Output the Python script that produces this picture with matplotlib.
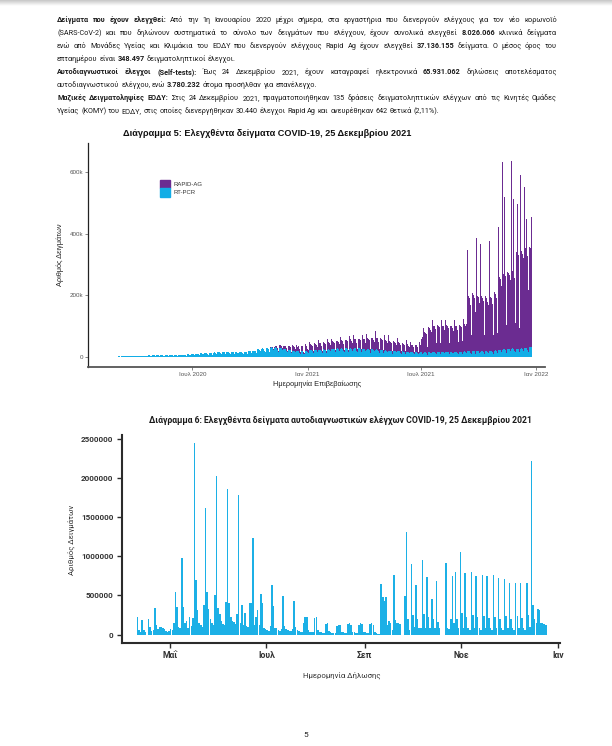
import numpy as np
import pandas as pd
import matplotlib
matplotlib.use("Agg")
import matplotlib.pyplot as plt
from matplotlib.patches import Patch
from matplotlib.offsetbox import TextArea, HPacker, AnchoredOffsetbox

# ---------------- Διάγραμμα 5: daily tests (thousands), one row per week Mon..Sun
pcr_start = "2020-02-24"
pcr_weeks = [
    [0.1, 0.1, 0.2, 0.2, 0.3, 0.2, 0.1], [0.4, 0.5, 0.6, 0.7, 0.8, 0.6, 0.5],
    [1.0, 1.2, 1.3, 1.4, 1.5, 1.2, 0.9], [1.6, 1.8, 1.9, 2.0, 2.0, 1.7, 1.2],
    [2.0, 2.2, 2.3, 2.4, 2.5, 2.0, 1.5], [2.6, 2.8, 3.0, 3.1, 3.0, 2.5, 1.8],
    [3.0, 3.3, 3.4, 3.5, 3.2, 2.6, 1.8], [2.8, 3.5, 3.6, 3.7, 3.5, 2.8, 2.0],
    [3.6, 3.8, 3.9, 4.0, 3.8, 3.0, 2.2], [3.8, 4.0, 4.1, 4.2, 3.9, 3.1, 2.3],
    [4.2, 4.5, 4.6, 4.6, 4.3, 3.4, 2.5], [4.5, 4.8, 4.9, 4.9, 4.6, 3.6, 2.7],
    [4.8, 5.0, 5.2, 5.1, 4.8, 3.8, 2.8], [5.0, 5.3, 5.4, 5.3, 5.0, 4.0, 3.0],
    [5.3, 5.6, 5.7, 5.6, 5.3, 4.2, 3.1], [5.6, 6.0, 6.1, 6.0, 5.7, 4.5, 3.3],
    [6.2, 6.6, 6.7, 6.6, 6.2, 4.9, 3.6], [7.0, 7.5, 7.6, 7.4, 7.0, 5.5, 4.0],
    [8.2, 8.8, 8.9, 8.6, 8.1, 6.4, 4.7], [9.5, 10.2, 10.3, 10.0, 9.4, 7.4, 5.4],
    [10, 11, 11, 11, 10, 8, 6], [11, 12, 12, 11, 11, 8, 6],
    [12, 12, 12, 12, 11, 9, 7], [13, 13, 14, 13, 12, 10, 7],
    [14, 15, 15, 14, 13, 11, 8], [14, 15, 15, 15, 14, 11, 8],
    [14, 15, 16, 15, 14, 11, 8], [14, 15, 15, 15, 14, 11, 8],
    [14, 14, 15, 14, 13, 11, 8], [14, 15, 15, 15, 14, 11, 8],
    [15, 16, 16, 15, 14, 11, 8], [17, 18, 18, 17, 16, 13, 9],
    [19, 20, 21, 20, 19, 15, 11], [22, 24, 24, 23, 22, 17, 12],
    [25, 26, 27, 26, 24, 19, 14], [26, 28, 28, 27, 26, 20, 15],
    [28, 30, 30, 29, 27, 21, 16], [28, 30, 31, 29, 28, 22, 16],
    [27, 29, 29, 28, 27, 21, 15], [24, 26, 26, 25, 24, 19, 14],
    [21, 23, 23, 22, 21, 16, 12], [19, 20, 20, 19, 18, 14, 10],
    [17, 18, 18, 18, 17, 13, 10], [18, 19, 19, 15, 9, 11, 8],
    [18, 19, 20, 16, 9, 12, 9], [21, 22, 19, 22, 20, 16, 12],
    [21, 23, 23, 22, 21, 16, 12], [22, 23, 23, 23, 21, 17, 12],
    [22, 24, 24, 23, 22, 17, 12], [23, 25, 25, 24, 23, 18, 13],
    [24, 26, 26, 25, 24, 19, 14], [25, 26, 27, 26, 24, 19, 14],
    [25, 27, 27, 26, 25, 19, 14], [26, 27, 28, 27, 25, 20, 14],
    [26, 28, 28, 27, 26, 20, 15], [26, 27, 28, 27, 25, 20, 14],
    [25, 27, 27, 23, 25, 19, 14], [24, 26, 26, 25, 24, 19, 14],
    [23, 25, 25, 24, 23, 18, 13], [23, 24, 24, 24, 22, 18, 13],
    [22, 24, 24, 23, 22, 17, 12], [21, 23, 23, 22, 21, 16, 12],
    [20, 21, 21, 20, 19, 15, 11], [19, 20, 20, 19, 18, 14, 10],
    [18, 19, 19, 18, 17, 14, 10], [17, 18, 18, 17, 16, 13, 9],
    [16, 17, 17, 16, 15, 12, 9], [15, 16, 16, 15, 14, 11, 8],
    [14, 15, 15, 15, 14, 11, 8], [14, 15, 15, 14, 13, 11, 8],
    [13, 14, 14, 14, 13, 10, 7], [13, 14, 14, 14, 13, 10, 7],
    [14, 15, 15, 14, 13, 11, 8], [14, 15, 15, 15, 14, 11, 8],
    [15, 16, 16, 15, 14, 11, 8], [15, 16, 16, 15, 14, 11, 8],
    [14, 15, 15, 15, 14, 11, 8], [14, 15, 15, 11, 13, 11, 8],
    [14, 15, 15, 15, 14, 11, 8], [15, 16, 16, 16, 15, 12, 9],
    [16, 17, 17, 17, 16, 12, 9], [17, 18, 18, 18, 17, 13, 10],
    [17, 18, 18, 18, 17, 13, 10], [17, 18, 18, 17, 16, 13, 9],
    [16, 17, 17, 17, 16, 12, 9], [17, 18, 18, 17, 16, 13, 9],
    [18, 19, 19, 18, 17, 14, 10], [19, 20, 21, 20, 19, 15, 11],
    [21, 23, 23, 22, 21, 16, 12], [23, 25, 25, 24, 23, 18, 13],
    [24, 26, 26, 25, 24, 19, 14], [25, 26, 27, 26, 24, 19, 14],
    [24, 26, 26, 25, 24, 19, 14], [25, 26, 27, 26, 24, 19, 14],
    [27, 29, 29, 28, 27, 21, 15], [30, 32, 32, 31, 30],
]
rapid_start = "2020-11-02"
rapid_weeks = [
    [2, 3, 3, 4, 4, 3, 1], [5, 6, 6, 7, 7, 6, 2], [8, 9, 9, 10, 9, 8, 3],
    [11, 11, 10, 11, 10, 9, 4], [15, 12, 12, 13, 12, 11, 4], [19, 14, 14, 15, 13, 12, 5],
    [21, 15, 15, 16, 14, 13, 5], [22, 16, 16, 12, 6, 12, 4], [23, 16, 15, 10, 5, 11, 4],
    [28, 18, 14, 17, 15, 14, 5], [30, 20, 19, 19, 17, 16, 6], [32, 22, 21, 21, 19, 17, 6],
    [33, 23, 22, 22, 20, 18, 7], [34, 24, 23, 23, 21, 19, 7], [35, 25, 24, 24, 22, 20, 8],
    [36, 26, 25, 24, 23, 21, 8], [38, 27, 26, 26, 24, 22, 8], [40, 28, 27, 27, 25, 23, 9],
    [42, 29, 28, 28, 26, 24, 9], [43, 30, 29, 29, 27, 25, 10], [45, 31, 30, 22, 28, 26, 10],
    [48, 33, 32, 31, 30, 27, 11], [52, 35, 34, 33, 31, 28, 11], [55, 37, 36, 35, 33, 30, 12],
    [62, 40, 38, 37, 35, 32, 12], [58, 38, 36, 35, 33, 30, 11], [52, 34, 33, 32, 30, 28, 10],
    [50, 32, 31, 30, 28, 26, 10], [47, 31, 30, 29, 27, 25, 9], [45, 30, 29, 28, 26, 24, 9],
    [42, 28, 27, 26, 24, 22, 8], [38, 26, 25, 24, 22, 20, 8], [35, 24, 23, 22, 20, 19, 7],
    [33, 23, 22, 21, 19, 18, 7], [34, 24, 23, 45, 58, 55, 20], [80, 66, 63, 63, 62, 58, 25],
    [95, 80, 78, 77, 75, 70, 30], [105, 88, 86, 85, 83, 78, 35], [106, 88, 86, 85, 82, 77, 38],
    [105, 88, 85, 84, 82, 76, 40], [104, 87, 85, 84, 80, 75, 38], [102, 86, 84, 60, 80, 74, 38],
    [106, 89, 86, 85, 83, 77, 40], [105, 88, 86, 85, 82, 78, 42], [107, 90, 88, 86, 84, 95, 60],
    [330, 180, 175, 172, 165, 155, 60], [380, 190, 182, 180, 172, 165, 135],
    [370, 188, 180, 178, 170, 162, 65], [350, 180, 175, 172, 165, 158, 62],
    [350, 178, 173, 170, 162, 155, 60], [358, 182, 176, 172, 165, 158, 62],
    [370, 190, 182, 180, 172, 165, 66], [400, 240, 235, 230, 225, 215, 90],
    [610, 245, 240, 495, 238, 225, 90], [635, 250, 245, 490, 240, 230, 160],
    [610, 255, 250, 485, 245, 235, 95], [570, 315, 310, 470, 305, 295, 80],
    [565, 320, 315, 455, 310, 300, 150], [525, 325, 320, 420, 315, 305, 200],
    [530, 325, 320, 310, 425],
]

# ---------------- Διάγραμμα 6: daily self-test declarations (thousands), one row per month
self_start = "2021-04-10"
self_months = [
    [230, 60, 35, 190, 55, 30, 0, 195, 100, 45, 60, 336, 120, 70, 100, 95, 85, 70, 45, 35, 45],
    [70, 60, 145, 550, 355, 100, 90, 975, 350, 150, 170, 90, 230, 110, 215, 2450, 700, 320,
     150, 120, 100, 380, 1620, 550, 330, 200, 150, 130, 505, 2030, 340],
    [260, 180, 140, 120, 420, 1860, 400, 220, 180, 160, 140, 270, 1780, 150, 378, 120, 272,
     110, 100, 400, 400, 1230, 120, 230, 315, 120, 515, 400, 90, 70],
    [60, 50, 110, 634, 360, 90, 80, 60, 50, 70, 497, 110, 75, 60, 50, 45, 70, 430, 100, 60,
     50, 40, 35, 145, 230, 225, 60, 40, 35, 30, 210],
    [225, 60, 40, 30, 25, 25, 140, 145, 50, 35, 25, 20, 20, 110, 125, 120, 40, 30, 25, 20,
     140, 153, 130, 40, 30, 20, 20, 130, 145, 140, 40],
    [30, 20, 20, 135, 145, 130, 35, 20, 15, 15, 646, 480, 430, 485, 120, 180, 150, 60, 761,
     190, 150, 145, 140, 0, 0, 490, 1310, 200, 60, 900],
    [250, 100, 634, 200, 80, 90, 950, 270, 90, 730, 220, 90, 455, 200, 80, 690, 160, 90, 0,
     0, 0, 910, 90, 70, 200, 750, 150, 800, 200, 90, 1050],
    [280, 90, 782, 230, 80, 60, 795, 250, 90, 752, 220, 80, 60, 761, 240, 90, 752, 210, 80,
     60, 761, 230, 90, 718, 200, 80, 60, 710, 240, 90],
    [655, 200, 80, 60, 655, 240, 90, 655, 210, 80, 60, 655, 250, 100, 2210, 378, 200, 150,
     330, 315, 153, 150, 140, 130],
]

# ---------------- texts
title5 = "Διάγραμμα 5: Ελεγχθέντα δείγματα COVID-19, 25 Δεκεμβρίου 2021"
title6 = "Διάγραμμα 6: Ελεγχθέντα δείγματα αυτοδιαγνωστικών ελέγχων COVID-19, 25 Δεκεμβρίου 2021"
x5_ticks = ["2020-07-01", "2021-01-01", "2021-07-01", "2022-01-01"]
x5_labels = ["Ιουλ 2020", "Ιαν 2021", "Ιουλ 2021", "Ιαν 2022"]
y5_ticks = [0, 200000, 400000, 600000]
y5_labels = ["0", "200k", "400k", "600k"]
x6_ticks = ["2021-05-01", "2021-07-01", "2021-09-01", "2021-11-01", "2022-01-01"]
x6_labels = ["Μαΐ", "Ιουλ", "Σεπ", "Νοε", "Ιαν"]
y6_ticks = [0, 500000, 1000000, 1500000, 2000000, 2500000]

page_lines = [
    ([("Δείγματα που έχουν ελεγχθεί:", True), ("Από την 1η Ιανουαρίου 2020 μέχρι σήμερα, στα εργαστήρια που διενεργούν ελέγχους για τον νέο κορωνοϊό", False)], True),
    ([("(SARS-CoV-2) και που δηλώνουν συστηματικά το σύνολο των δειγμάτων που ελέγχουν, έχουν συνολικά ελεγχθεί", False), ("8.026.066", True), ("κλινικά δείγματα", False)], True),
    ([("ενώ από Μονάδες Υγείας και Κλιμάκια του ΕΟΔΥ που διενεργούν ελέγχους Rapid Ag έχουν ελεγχθεί", False), ("37.136.155", True), ("δείγματα.  Ο μέσος όρος του", False)], True),
    ([("επταημέρου είναι", False), ("348.497", True), ("δειγματοληπτικοί έλεγχοι.", False)], False),
    ([("Αυτοδιαγνωστικοί έλεγχοι (Self-tests):", True), ("Έως 24 Δεκεμβρίου 2021, έχουν καταγραφεί ηλεκτρονικά", False), ("65.931.062", True), ("δηλώσεις αποτελέσματος", False)], True),
    ([("αυτοδιαγνωστικού ελέγχου, ενώ", False), ("3.780.232", True), ("άτομα προσήλθαν για επανέλεγχο.", False)], False),
    ([("Μαζικές Δειγματοληψίες ΕΟΔΥ:", True), ("Στις 24 Δεκεμβρίου 2021, πραγματοποιήθηκαν 135 δράσεις δειγματοληπτικών ελέγχων από τις Κινητές Ομάδες", False)], True),
    ([("Υγείας (ΚΟΜΥ) του ΕΟΔΥ, στις οποίες διενεργήθηκαν 30.440 έλεγχοι Rapid Ag και ανευρέθηκαν 642 θετικά (2,11%).", False)], False),
]
line_y = [20, 33, 46, 59, 72, 85, 98, 111]

PURPLE = "#6b2c91"
CYAN = "#12ade6"
BLUE6 = "#1cb0e6"
ARIAL = "Liberation Sans"
BODY = "Roboto"
BODY_SIZE = 5.2

plt.rcParams["font.family"] = [ARIAL, "DejaVu Sans"]

W, H = 612, 746
fig = plt.figure(figsize=(W / 100, H / 100), dpi=100)


def fx(x):
    return x / W


def fy(y):
    return 1 - y / H


# faint shadow at the top edge of the page
band = fig.add_axes([0, fy(6), 1, 6 / H])
band.imshow(np.linspace(0.78, 1.0, 20).reshape(-1, 1), cmap="gray", vmin=0, vmax=1,
            aspect="auto", extent=[0, 1, 0, 1])
band.axis("off")

# ---------------- page paragraph; justified lines spread their words over 500 px
for (parts, justify), y in zip(page_lines, line_y):
    boxes = []
    for s, bold in parts:
        for w in s.split():
            boxes.append(TextArea(w, textprops=dict(fontsize=BODY_SIZE, family=BODY,
                                                    fontweight="bold" if bold else "normal",
                                                    color="#1a1a1a")))
    if justify:
        pack = HPacker(children=boxes, mode="expand", width=500, pad=0, sep=0, align="baseline")
    else:
        pack = HPacker(children=boxes, mode="fixed", pad=0, sep=1.3, align="baseline")
    fig.add_artist(AnchoredOffsetbox(loc="center left", child=pack, frameon=False, pad=0,
                                     borderpad=0, bbox_to_anchor=(fx(57), fy(y)),
                                     bbox_transform=fig.transFigure))

# ---------------- Διάγραμμα 5
pcr = np.concatenate([np.array(w, float) for w in pcr_weeks]) * 1000
rapid = np.concatenate([np.array(w, float) for w in rapid_weeks]) * 1000
pcr_days = pd.date_range(pcr_start, periods=len(pcr))
rapid_days = pd.date_range(rapid_start, periods=len(rapid))
off = (pd.Timestamp(rapid_start) - pd.Timestamp(pcr_start)).days

ax1 = fig.add_axes([fx(88.3), fy(366.7), fx(545) - fx(88.3), (366.7 - 143) / H])
ax1.bar(pcr_days, pcr, width=1.0, align="edge", color=CYAN, linewidth=0)
ax1.bar(rapid_days, rapid, width=1.0, align="edge", bottom=pcr[off:off + len(rapid)],
        color=PURPLE, linewidth=0)
ax1.set_xlim(pd.Timestamp("2020-01-17"), pd.Timestamp("2022-01-15"))
ax1.set_ylim(-32500, 694000)
ax1.set_xticks(pd.to_datetime(x5_ticks))
ax1.set_xticklabels(x5_labels)
ax1.set_yticks(y5_ticks)
ax1.set_yticklabels(y5_labels)
for s in ["top", "right"]:
    ax1.spines[s].set_visible(False)
ax1.spines["left"].set_linewidth(0.9)
ax1.spines["left"].set_color("#222222")
ax1.spines["bottom"].set_linewidth(1.3)
ax1.spines["bottom"].set_color("#555555")
ax1.tick_params(length=2, width=0.5, color="#555555", labelsize=4.5,
                labelcolor="#555555", pad=1.5)
ax1.set_xlabel("Ημερομηνία Επιβεβαίωσης", fontsize=5.3, color="#222222", labelpad=3)
ax1.set_ylabel("Αριθμός Δειγμάτων", fontsize=5.3, color="#222222", labelpad=4)
ax1.legend(handles=[Patch(color=PURPLE, label="RAPID-AG"), Patch(color=CYAN, label="RT-PCR")],
           loc="upper left", bbox_to_anchor=(fx(160), fy(180)), bbox_transform=fig.transFigure,
           frameon=False, fontsize=4.3, handlelength=1.75, handleheight=1.75,
           handletextpad=0.5, labelspacing=0, borderpad=0, borderaxespad=0,
           labelcolor="#333333")
fig.text(fx(123.3), fy(133), title5, fontweight="bold", color="#111111", va="center",
         ha="left", fontsize=6.55)

# ---------------- Διάγραμμα 6
selfv = np.concatenate([np.array(m, float) for m in self_months]) * 1000
self_days = pd.date_range(self_start, periods=len(selfv))

ax2 = fig.add_axes([fx(122), fy(642.7), fx(560) - fx(122), (642.7 - 435) / H])
ax2.bar(self_days, selfv, width=0.95, align="edge", color=BLUE6, linewidth=0)
ax2.set_xlim(pd.Timestamp("2021-03-31 17:00"), pd.Timestamp("2022-01-02 11:00"))
ax2.set_ylim(-102000, 2547000)
ax2.set_xticks(pd.to_datetime(x6_ticks))
ax2.set_xticklabels(x6_labels)
ax2.set_yticks(y6_ticks)
ax2.set_yticklabels([str(v) for v in y6_ticks])
for s in ["top", "right"]:
    ax2.spines[s].set_visible(False)
for s in ["left", "bottom"]:
    ax2.spines[s].set_linewidth(1.5)
    ax2.spines[s].set_color("#2b2b2b")
ax2.tick_params(length=3.6, width=1.0, color="#2b2b2b", pad=2.5)
for lab in ax2.get_xticklabels() + ax2.get_yticklabels():
    lab.set_fontfamily(BODY)
    lab.set_fontweight("bold")
    lab.set_color("#333333")
    lab.set_fontsize(5.8)
for lab in ax2.get_xticklabels():
    lab.set_fontsize(6.2)
fig.text(fx(341.7), fy(675), "Ημερομηνία Δήλωσης", family=BODY, color="#333333",
         ha="center", va="center", fontsize=5.6)
fig.text(fx(71.7), fy(540), "Αριθμός Δειγμάτων", family=BODY, color="#333333",
         ha="center", va="center", rotation=90, fontsize=5.6)
fig.text(fx(340.8), fy(420), title6, family=BODY, fontweight="bold", color="#1a1a1a",
         ha="center", va="center", fontsize=6.2)

fig.text(fx(306), fy(735), "5", family=BODY, fontsize=6, color="#222222",
         ha="center", va="center")

fig.savefig("out.png", dpi=100)
